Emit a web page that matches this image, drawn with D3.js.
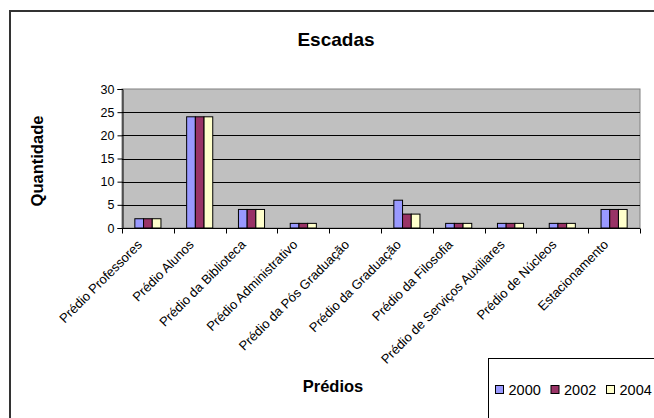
<!DOCTYPE html>
<html>
<head>
<meta charset="utf-8">
<script src="https://cdn.jsdelivr.net/npm/d3@7"></script>
<style>
  body { margin: 0; background: #fff; }
  svg text { font-family: "Liberation Sans", Arial, sans-serif; }
</style>
</head>
<body>
<div id="chart"></div>
<script>
const categories = [
  'Prédio Professores', 'Prédio Alunos', 'Prédio da Biblioteca',
  'Prédio Administrativo', 'Prédio da Pós Graduação', 'Prédio da Graduação',
  'Prédio da Filosofia', 'Prédio de Serviços Auxiliares', 'Prédio de Núcleos',
  'Estacionamento'
];
const years = ['2000', '2002', '2004'];
const v2000 = [2, 24, 4, 1, 0, 6, 1, 1, 1, 4];
const v2002 = [2, 24, 4, 1, 0, 3, 1, 1, 1, 4];
const v2004 = [2, 24, 4, 1, 0, 3, 1, 1, 1, 4];
const yTicks = [0, 5, 10, 15, 20, 25, 30];
const colors = ['#9999FF', '#993366', '#FFFFCC'];

const series = [v2000, v2002, v2004];

const W = 654, H = 418;
const plot = { left: 122, top: 89, right: 640, bottom: 228 };

const svg = d3.select('#chart').append('svg')
  .attr('width', W)
  .attr('height', H);

// chart border (runs off the right and bottom like the original)
svg.append('rect')
  .attr('x', 10).attr('y', 11)
  .attr('width', 700).attr('height', 500)
  .attr('fill', '#fff')
  .attr('stroke', '#333')
  .attr('stroke-width', 2);

svg.append('text')
  .attr('x', 336).attr('y', 46)
  .attr('text-anchor', 'middle')
  .attr('font-size', 19)
  .attr('font-weight', 'bold')
  .text('Escadas');

const x = d3.scaleBand()
  .domain(categories)
  .range([plot.left, plot.right]);

const barW = x.bandwidth() * 0.168;
const xs = d3.scaleBand()
  .domain(years)
  .range([0, barW * 3]);

const y = d3.scaleLinear()
  .domain([0, 30])
  .range([plot.bottom, plot.top]);

// plot background
svg.append('rect')
  .attr('x', plot.left).attr('y', plot.top)
  .attr('width', plot.right - plot.left)
  .attr('height', plot.bottom - plot.top)
  .attr('fill', '#C0C0C0')
  .attr('stroke', '#808080');

// gridlines
svg.append('g')
  .selectAll('line')
  .data(yTicks.filter((t) => t > 0 && t < 30))
  .enter()
  .append('line')
  .attr('x1', plot.left).attr('x2', plot.right)
  .attr('y1', (d) => Math.round(y(d)) + 0.5)
  .attr('y2', (d) => Math.round(y(d)) + 0.5)
  .attr('stroke', '#000');

// bars
const groups = svg.append('g')
  .selectAll('g')
  .data(categories)
  .enter()
  .append('g')
  .attr('transform', (d) =>
    `translate(${x(d) + (x.bandwidth() - barW * 3) / 2},0)`);

groups.selectAll('rect')
  .data((d, i) => series.map((s, j) => ({ year: years[j], v: s[i], j: j })))
  .enter()
  .append('rect')
  .filter((d) => d.v > 0)
  .attr('x', (d) => xs(d.year))
  .attr('y', (d) => y(d.v))
  .attr('width', xs.bandwidth())
  .attr('height', (d) => y(0) - y(d.v))
  .attr('fill', (d) => colors[d.j])
  .attr('stroke', '#000')
  .attr('stroke-width', 1);

// y axis
const yAxis = svg.append('g')
  .attr('transform', `translate(${plot.left + 0.5},0)`)
  .call(d3.axisLeft(y).tickValues(yTicks).tickSize(5).tickPadding(3));
yAxis.select('.domain').attr('stroke', '#000');
yAxis.selectAll('.tick line').attr('stroke', '#000');
yAxis.selectAll('text')
  .attr('font-size', 12.5)
  .attr('fill', '#000');

// x axis
const xAxis = svg.append('g')
  .attr('transform', `translate(0,${plot.bottom + 0.5})`);
xAxis.append('line')
  .attr('x1', plot.left).attr('x2', plot.right)
  .attr('stroke', '#000');
xAxis.selectAll('line.tk')
  .data(d3.range(categories.length + 1))
  .enter()
  .append('line')
  .attr('class', 'tk')
  .attr('x1', (i) => Math.round(plot.left + i * x.step()) + 0.5)
  .attr('x2', (i) => Math.round(plot.left + i * x.step()) + 0.5)
  .attr('y1', 0).attr('y2', 5)
  .attr('stroke', '#000');

xAxis.selectAll('text')
  .data(categories)
  .enter()
  .append('text')
  .attr('text-anchor', 'end')
  .attr('font-size', 13)
  .attr('transform', (d) =>
    `translate(${x(d) + x.bandwidth() / 2 - 5},${17}) rotate(-45)`)
  .text((d) => d);

// axis titles
svg.append('text')
  .attr('transform', `translate(43,161) rotate(-90)`)
  .attr('text-anchor', 'middle')
  .attr('font-size', 16.5)
  .attr('font-weight', 'bold')
  .text('Quantidade');

svg.append('text')
  .attr('x', 333).attr('y', 392)
  .attr('text-anchor', 'middle')
  .attr('font-size', 16.5)
  .attr('font-weight', 'bold')
  .text('Prédios');

// legend
const legend = svg.append('g');
legend.append('rect')
  .attr('x', 488.5).attr('y', 358.5)
  .attr('width', 300).attr('height', 200)
  .attr('fill', '#fff')
  .attr('stroke', '#000');

const item = legend.selectAll('g.item')
  .data(years)
  .enter()
  .append('g')
  .attr('class', 'item')
  .attr('transform', (d, i) => `translate(${495.5 + i * 55.5},385.5)`);

item.append('rect')
  .attr('width', 8).attr('height', 8)
  .attr('fill', (d, i) => colors[i])
  .attr('stroke', '#000');

item.append('text')
  .attr('x', 13).attr('y', 9)
  .attr('font-size', 14.5)
  .text((d) => d);
</script>
</body>
</html>
